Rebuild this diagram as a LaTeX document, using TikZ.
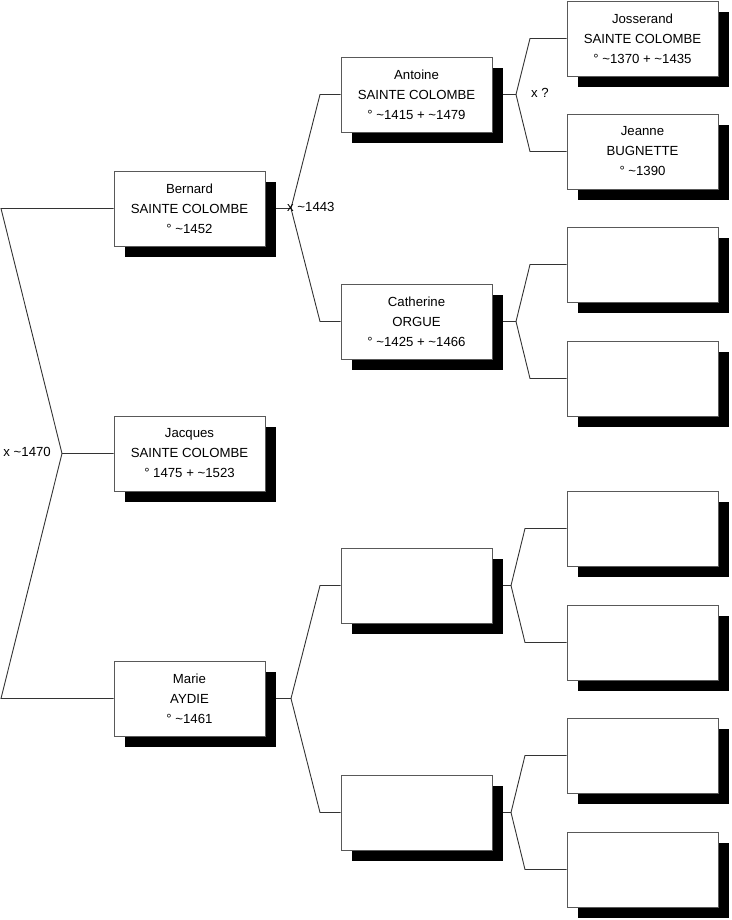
\documentclass[tikz,border=0pt]{standalone}
\usepackage{fontspec}
\setmainfont{Liberation Sans}
\usetikzlibrary{shadows,backgrounds}
\tikzset{
  pbox/.style={rectangle, draw=black!65, line width=0.9pt, fill=white,
    minimum width=151pt, minimum height=75pt, inner sep=0pt, align=center,
    font=\fontsize{13.2}{20}\selectfont,
    drop shadow={shadow xshift=11pt, shadow yshift=-11pt, fill=black, opacity=1}},
  conn/.style={draw=black!80, line width=0.9pt},
  lbl/.style={font=\fontsize{13.2}{16}\selectfont, inner sep=0pt}
}
\newcommand{\tl}{\textasciitilde}
\begin{document}
\begin{tikzpicture}[x=1pt,y=-1pt]
\useasboundingbox (0,0) rectangle (731,920);
% column 1
\node[pbox] (bernard) at (189.5,208.5) {Bernard\\SAINTE COLOMBE\\° \tl1452};
\node[pbox] (jacques) at (189.5,453.5) {Jacques\\SAINTE COLOMBE\\° 1475 + \tl1523};
\node[pbox] (marie) at (189.5,698.5) {Marie\\AYDIE\\° \tl1461};
% column 2
\node[pbox] (antoine) at (416.5,94.5) {Antoine\\SAINTE COLOMBE\\° \tl1415 + \tl1479};
\node[pbox] (catherine) at (416.5,321.5) {Catherine\\ORGUE\\° \tl1425 + \tl1466};
\node[pbox] (e1) at (416.5,585.5) {};
\node[pbox] (e2) at (416.5,812.5) {};
% column 3
\node[pbox] (josserand) at (642.5,38.5) {Josserand\\SAINTE COLOMBE\\° \tl1370 + \tl1435};
\node[pbox] (jeanne) at (642.5,151.5) {Jeanne\\BUGNETTE\\° \tl1390};
\node[pbox] (r3) at (642.5,264.5) {};
\node[pbox] (r4) at (642.5,378.5) {};
\node[pbox] (r5) at (642.5,528.5) {};
\node[pbox] (r6) at (642.5,642.5) {};
\node[pbox] (r7) at (642.5,755.5) {};
\node[pbox] (r8) at (642.5,869.5) {};
% coordinates
\coordinate (l1) at (1,208.5);
\coordinate (l2) at (1,698.5);
\coordinate (v0) at (62,453.5);
\coordinate (v1) at (291,208.5);
\coordinate (v1a) at (320,94.5);
\coordinate (v1b) at (320,321.5);
\coordinate (v2) at (291,698.5);
\coordinate (v2a) at (320,585.5);
\coordinate (v2b) at (320,812.5);
\coordinate (v3) at (516,94.5);
\coordinate (v3a) at (530,38.5);
\coordinate (v3b) at (530,151.5);
\coordinate (v4) at (516,321.5);
\coordinate (v4a) at (530,264.5);
\coordinate (v4b) at (530,378.5);
\coordinate (v5) at (511,585.5);
\coordinate (v5a) at (525,528.5);
\coordinate (v5b) at (525,642.5);
\coordinate (v6) at (511,812.5);
\coordinate (v6a) at (525,755.5);
\coordinate (v6b) at (525,869.5);
\begin{scope}[on background layer]
\draw[conn] (bernard.west) -- (l1) -- (v0) -- (jacques.west);
\draw[conn] (marie.west) -- (l2) -- (v0);
\draw[conn] (bernard.east) -- (v1) -- (v1a) -- (antoine.west);
\draw[conn] (v1) -- (v1b) -- (catherine.west);
\draw[conn] (marie.east) -- (v2) -- (v2a) -- (e1.west);
\draw[conn] (v2) -- (v2b) -- (e2.west);
\draw[conn] (antoine.east) -- (v3) -- (v3a) -- (josserand.west);
\draw[conn] (v3) -- (v3b) -- (jeanne.west);
\draw[conn] (catherine.east) -- (v4) -- (v4a) -- (r3.west);
\draw[conn] (v4) -- (v4b) -- (r4.west);
\draw[conn] (e1.east) -- (v5) -- (v5a) -- (r5.west);
\draw[conn] (v5) -- (v5b) -- (r6.west);
\draw[conn] (e2.east) -- (v6) -- (v6a) -- (r7.west);
\draw[conn] (v6) -- (v6b) -- (r8.west);
\end{scope}
% labels
\node[lbl, anchor=east] (m0) at (51,452) {x \tl1470};
\node[lbl, anchor=west] (m1) at (287,207) {x \tl1443};
\node[lbl, anchor=west] (m2) at (531,93) {x ?};
\end{tikzpicture}
\end{document}
